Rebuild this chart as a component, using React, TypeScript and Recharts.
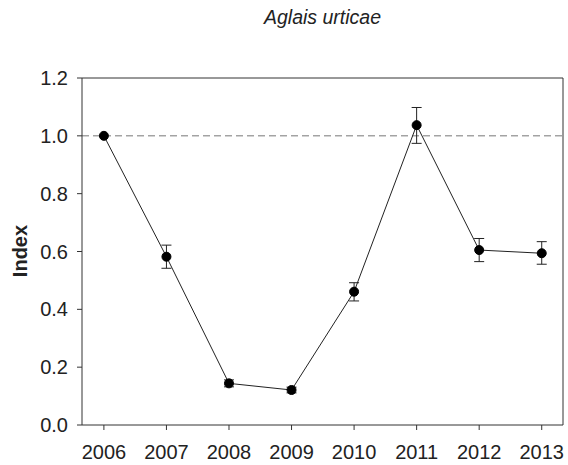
import { LineChart, Line, XAxis, YAxis, ErrorBar, ReferenceLine } from "recharts";

const years = [2006, 2007, 2008, 2009, 2010, 2011, 2012, 2013];
const indexValues = [1.0, 0.582, 0.144, 0.121, 0.461, 1.037, 0.605, 0.594];
const errLow = [null, 0.04, 0.012, 0.01, 0.032, 0.063, 0.04, 0.038];
const errHigh = [null, 0.04, 0.012, 0.01, 0.031, 0.061, 0.04, 0.04];
const yTicks = [0, 0.2, 0.4, 0.6, 0.8, 1.0, 1.2];

const X_MIN = 2005.65;
const X_MAX = 2013.34;

const data = years.map((year, i) => ({
  year,
  index: indexValues[i],
  err: errLow[i] == null ? null : [errLow[i], errHigh[i]],
}));

const FONT = '"Liberation Sans", Arial, sans-serif';
const INK = "#222";

export default function App() {
  return (
    <div
      style={{
        position: "absolute",
        left: 0,
        top: 0,
        width: 568,
        height: 465,
        background: "#fff",
        fontFamily: FONT,
      }}
    >
      <div
        style={{
          position: "absolute",
          left: 82,
          width: 481,
          top: 6,
          textAlign: "center",
          fontSize: 19.5,
          fontStyle: "italic",
          color: INK,
        }}
      >
        Aglais urticae
      </div>
      <div
        style={{
          position: "absolute",
          left: 20,
          top: 251,
          transform: "translate(-50%, -50%) rotate(-90deg)",
          fontSize: 20,
          fontWeight: "bold",
          color: INK,
        }}
      >
        Index
      </div>
      <LineChart
        width={568}
        height={465}
        data={data}
        margin={{ top: 78, right: 5, bottom: 0, left: 0 }}
      >
        <XAxis
          dataKey="year"
          type="number"
          domain={[X_MIN, X_MAX]}
          allowDataOverflow
          ticks={years}
          height={40}
          tickSize={5}
          tickMargin={15}
          stroke="#333"
          tick={{ fontSize: 20, fill: INK, fontFamily: FONT }}
        />
        <YAxis
          type="number"
          domain={[0, 1.2]}
          ticks={yTicks}
          width={82}
          tickSize={5}
          tickMargin={9}
          stroke="#333"
          tickFormatter={(v: number) => v.toFixed(1)}
          tick={{ fontSize: 20, fill: INK, fontFamily: FONT }}
        />
        <ReferenceLine y={1.2} stroke="#333" />
        <ReferenceLine x={X_MAX} stroke="#333" />
        <ReferenceLine y={1.0} stroke="#777" strokeDasharray="7 4" />
        <Line
          dataKey="index"
          stroke="#222"
          strokeWidth={1}
          dot={{ r: 4.5, fill: "#000", stroke: "#000", strokeWidth: 1 }}
          activeDot={false}
          isAnimationActive={false}
        >
          <ErrorBar dataKey="err" width={5} stroke="#222" strokeWidth={1} direction="y" />
        </Line>
      </LineChart>
    </div>
  );
}
